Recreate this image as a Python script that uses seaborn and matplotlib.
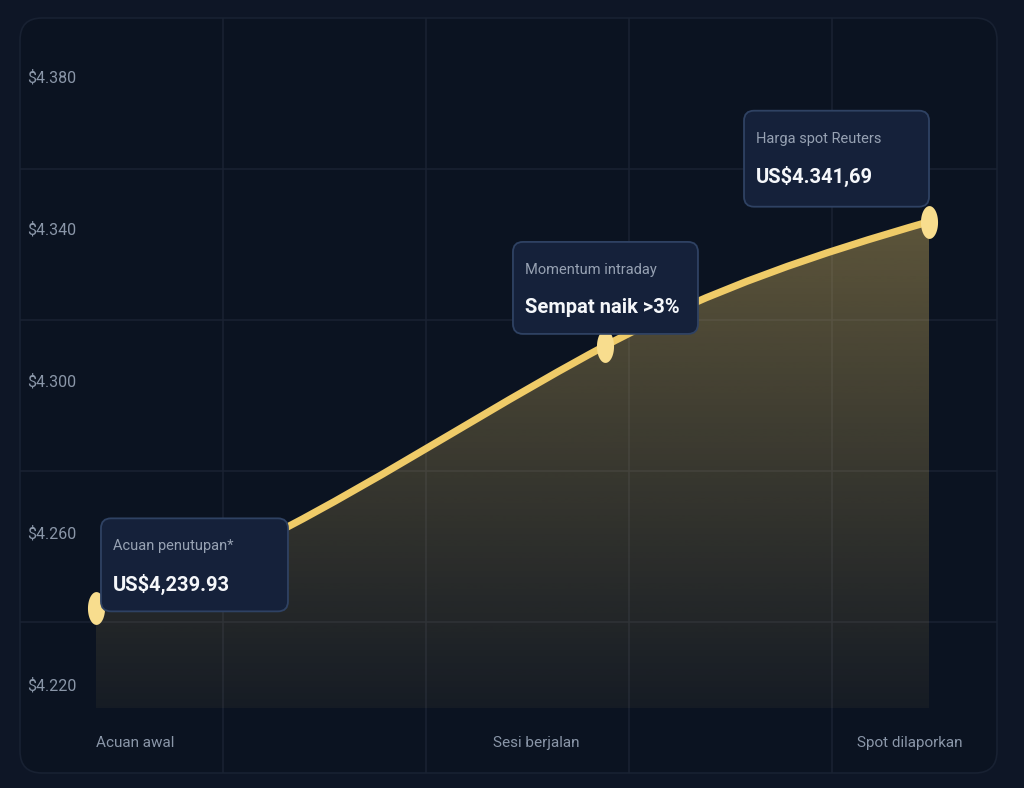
import numpy as np
import matplotlib
matplotlib.use("Agg")
import matplotlib.pyplot as plt
import matplotlib.transforms as mtransforms
from matplotlib.patches import FancyBboxPatch, PathPatch
from matplotlib.path import Path
from matplotlib.colors import to_rgb
import seaborn as sns

# data
stages = ["Acuan awal", "Sesi berjalan", "Spot dilaporkan"]
stage_x = [0.0, 0.611, 1.0]
prices = [4239.93, 4309.0, 4341.69]
y_ticks = [4220, 4260, 4300, 4340, 4380]
y_tick_labels = ["$4.220", "$4.260", "$4.300", "$4.340", "$4.380"]
callout_titles = ["Acuan penutupan*", "Momentum intraday", "Harga spot Reuters"]
callout_values = ["US$4,239.93", "Sempat naik >3%", "US$4.341,69"]

# layout / style
stage_label_x = [0.0, 0.528, 1.04]
stage_label_ha = ["left", "center", "right"]
callout_boxes = [(5, -3, 187, 93), (-92, 12, 185, 92), (-185, 15, 185, 96)]  # px offsets
tangent_k = [0.57, 1.19, 0.75]
fill_base = 4213.7

OUTER_BG = "#0e1626"
PANEL_BG = "#0b1321"
GRID = "#1a2232"
LINE = "#efcb68"
DOT = "#f8dd8e"
TICK = "#8a96a8"
BOX_BG = "#15213a"
BOX_EDGE = "#2f4263"

sns.set_theme(style="dark")
plt.rcParams["font.family"] = ["Roboto", "DejaVu Sans"]

W, H = 1024, 788
fig = plt.figure(figsize=(W / 100, H / 100), dpi=100)
fig.patch.set_facecolor(OUTER_BG)

# rounded panel
panel = FancyBboxPatch((20, 15), 977, 755, boxstyle="round,pad=0,rounding_size=22",
                       transform=mtransforms.IdentityTransform(),
                       fc=PANEL_BG, ec="#182132", lw=1.2, zorder=0)
fig.add_artist(panel)

rect = [20 / W, 15 / H, 977 / W, 755 / H]

# decorative grid
bg = fig.add_axes(rect)
bg.set_facecolor("none")
bg.set_xlim(0, 977 / 203)
bg.set_ylim(0, 5)
bg.set_xticks([1, 2, 3, 4])
bg.set_yticks([1, 2, 3, 4])
bg.tick_params(length=0, labelbottom=False, labelleft=False)
bg.grid(True, color=GRID, lw=1.1)
for s in bg.spines.values():
    s.set_visible(False)

ax = fig.add_axes(rect)
ax.set_facecolor("none")
for s in ax.spines.values():
    s.set_visible(False)
ax.grid(False)

# smooth curve through the points (cubic hermite -> bezier)
xs = np.array(stage_x)
ys = np.array(prices)
sec = np.diff(ys) / np.diff(xs)
tang = [tangent_k[0] * sec[0], tangent_k[1] * sec.mean(), tangent_k[2] * sec[1]]
verts = [(xs[0], ys[0])]
codes = [Path.MOVETO]
for i in range(len(xs) - 1):
    h = xs[i + 1] - xs[i]
    verts += [(xs[i] + h / 3, ys[i] + h * tang[i] / 3),
              (xs[i + 1] - h / 3, ys[i + 1] - h * tang[i + 1] / 3),
              (xs[i + 1], ys[i + 1])]
    codes += [Path.CURVE4] * 3
curve = Path(verts, codes)

fill_verts = [(xs[0], fill_base)] + verts + [(xs[-1], fill_base), (xs[0], fill_base)]
fill_codes = [Path.MOVETO, Path.LINETO] + codes[1:] + [Path.LINETO, Path.CLOSEPOLY]
fill_patch = PathPatch(Path(fill_verts, fill_codes), fc="none", ec="none")
ax.add_patch(fill_patch)

grad = np.linspace(0, 1, 256)[:, None]
rgba = np.zeros((256, 1, 4))
rgba[..., :3] = to_rgb(LINE)
rgba[..., 3] = 0.05 + 0.31 * grad
im = ax.imshow(rgba, origin="lower", aspect="auto", interpolation="bilinear",
               extent=[xs[0], xs[-1], fill_base, ys.max()], zorder=1)
im.set_clip_path(fill_patch)

ax.add_patch(PathPatch(curve, fc="none", ec=LINE, lw=5.2, capstyle="round", zorder=3))

# markers (stretched ellipse)
t = np.linspace(0, 2 * np.pi, 60)
ellipse = Path(np.c_[0.52 * np.cos(t), np.sin(t)], closed=True)
sns.scatterplot(x=stage_x, y=prices, marker=ellipse, s=560, color=DOT,
                linewidth=0, zorder=4, ax=ax)
ax.set_xlim(-0.0912, 1.0816)
ax.set_ylim(4196.6, 4395.3)

# y labels inside the panel
ax.set_yticks(y_ticks)
ax.set_yticklabels(y_tick_labels)
ax.tick_params(axis="y", length=0, pad=-5, labelsize=11.5, labelcolor=TICK)
for lab in ax.get_yticklabels():
    lab.set_horizontalalignment("left")
ax.set_xticks([])
ax.set_xlabel("")
ax.set_ylabel("")

# x labels
xt = mtransforms.blended_transform_factory(ax.transData, ax.transAxes)
for lx, txt, ha in zip(stage_label_x, stages, stage_label_ha):
    ax.text(lx, 0.04, txt, transform=xt, ha=ha, va="center", fontsize=11, color=TICK)

# callouts
for px, py, title, value, (dx, dy, w, h) in zip(stage_x, prices, callout_titles,
                                                callout_values, callout_boxes):
    tr = mtransforms.Affine2D() + mtransforms.ScaledTranslation(px, py, ax.transData)
    box = FancyBboxPatch((dx, dy), w, h, boxstyle="round,pad=0,rounding_size=10",
                         transform=tr, fc=BOX_BG, ec=BOX_EDGE, lw=1.3, zorder=6)
    ax.add_patch(box)
    ax.text(dx + 12, dy + h - 28, title, transform=tr, ha="left", va="center",
            fontsize=10.5, color="#97a2b3", zorder=7)
    ax.text(dx + 12, dy + h - 66, value, transform=tr, ha="left", va="center",
            fontsize=14.5, fontweight="bold", color="#f5f7fa", zorder=7)

fig.savefig("out.png", dpi=100, facecolor=fig.get_facecolor())
